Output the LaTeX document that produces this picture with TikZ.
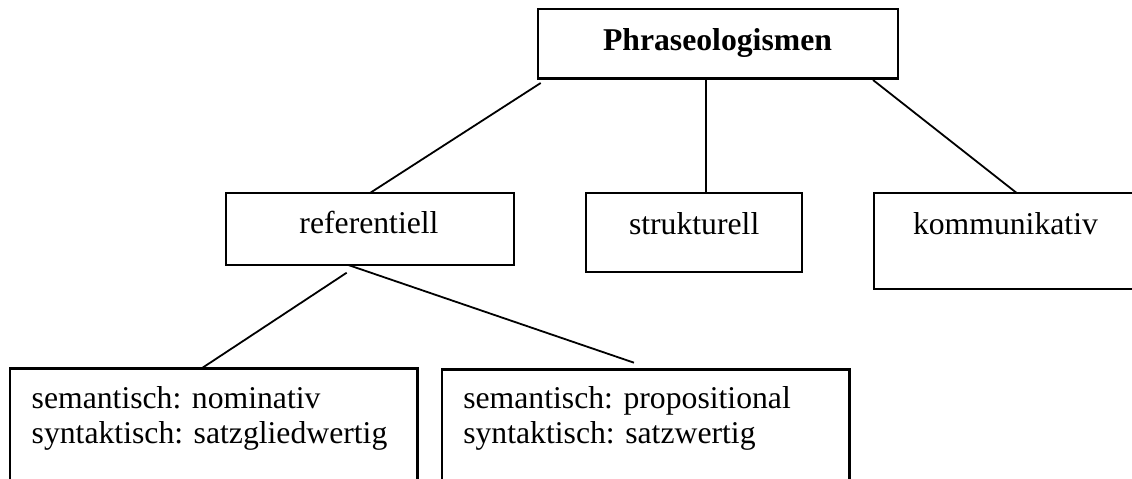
\documentclass[tikz,border=0pt]{standalone}
\usepackage{fontspec}
\setmainfont{Liberation Serif}
\begin{document}
\begin{tikzpicture}[x=1pt,y=-1pt,
  box/.style={draw, line width=2.2pt, rectangle, inner sep=0pt, outer sep=0pt, anchor=north west},
  lab/.style={inner sep=0pt, outer sep=0pt, font=\fontsize{31.7}{35}\selectfont},
  conn/.style={line width=1.8pt}]
\useasboundingbox (0,0) rectangle (1132,479);
% boxes
\node[box, minimum width=360pt, minimum height=69.5pt] (top) at (538,9) {};
\node[box, minimum width=288pt, minimum height=72pt] (ref) at (226,193) {};
\node[box, minimum width=216pt, minimum height=79pt] (struk) at (586,193) {};
\node[box, minimum width=270pt, minimum height=96pt] (komm) at (874,193) {};
\node[box, minimum width=407.5pt, minimum height=125pt] (nom) at (10,368.5) {};
\node[box, minimum width=407.5pt, minimum height=125pt] (prop) at (442,369.5) {};
% labels
\node[lab, anchor=base] (topl) at (717.5,50) {\bfseries Phraseologismen};
\node[lab, anchor=base] (refl) at (369,233) {referentiell};
\node[lab, anchor=base west] (strukl) at (629,234) {strukturell};
\node[lab, anchor=base west] (komml) at (913,234) {kommunikativ};
\node[lab, anchor=base west] (noma) at (31.7,408.3) {semantisch: nominativ};
\node[lab, anchor=base west] (nomb) at (31.7,443.3) {syntaktisch: satzgliedwertig};
\node[lab, anchor=base west] (propa) at (463.3,408.3) {semantisch: propositional};
\node[lab, anchor=base west] (propb) at (463.3,443.3) {syntaktisch: satzwertig};
% connector ends
\coordinate (t1) at (540.7,83);
\coordinate (t2) at (706,80);
\coordinate (t3) at (873,80);
\coordinate (s2) at (706,193);
\coordinate (k1) at (1016.7,193);
\coordinate (r1) at (346.7,272.7);
\coordinate (r2) at (348.3,265);
\coordinate (n1) at (201.7,368.3);
\coordinate (p1) at (634,362.7);
% connectors
\draw[conn] (t1) -- (ref.north);
\draw[conn] (t2) -- (s2);
\draw[conn] (t3) -- (k1);
\draw[conn] (r1) -- (n1);
\draw[conn] (r2) -- (p1);
\end{tikzpicture}
\end{document}
